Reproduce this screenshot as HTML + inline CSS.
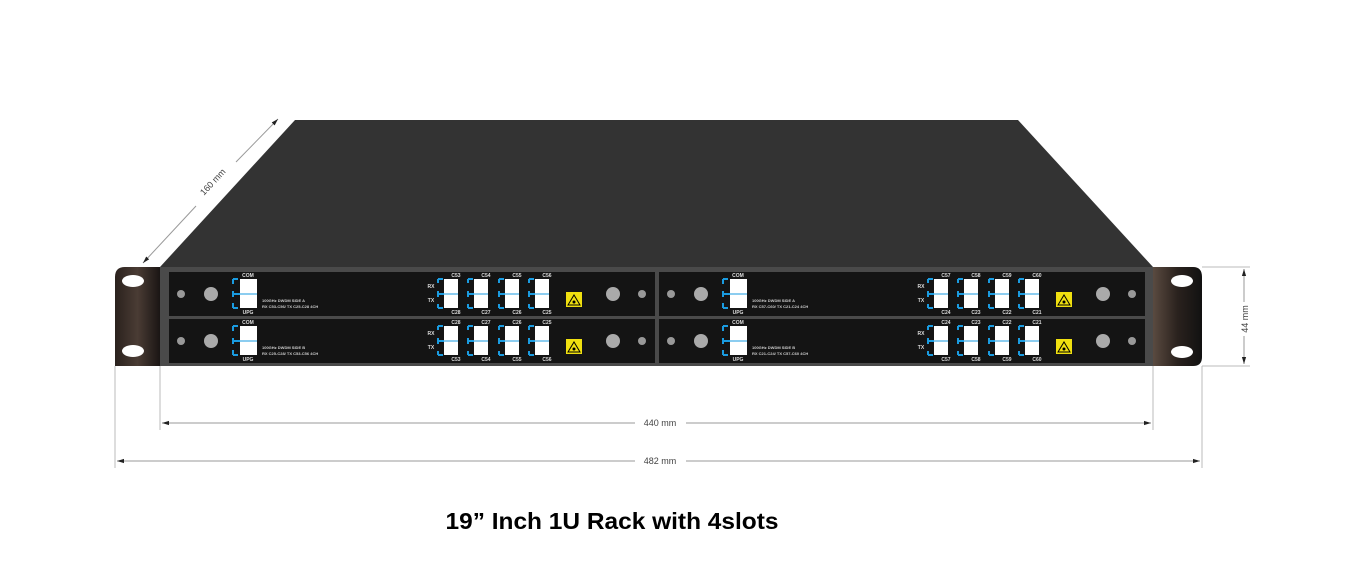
<!DOCTYPE html>
<html><head><meta charset="utf-8"><style>
html,body{margin:0;padding:0;background:#fff;}
svg{display:block;font-family:"Liberation Sans",sans-serif;}
.l{font-size:5px;fill:#ddd;font-weight:bold;text-anchor:middle}
.d{font-size:4px;fill:#ccc;font-weight:bold}
.dim{font-size:9px;fill:#444}
</style></head><body>
<svg width="1346" height="582" viewBox="0 0 1346 582">
<defs>
<linearGradient id="ear" x1="0" x2="1" y1="0" y2="0">
<stop offset="0" stop-color="#2a211d"/><stop offset="0.5" stop-color="#4a3c34"/><stop offset="1" stop-color="#1a1514"/></linearGradient>
<linearGradient id="ear2" x1="0" x2="1" y1="0" y2="0">
<stop offset="0" stop-color="#5a4a40"/><stop offset="0.5" stop-color="#2a221e"/><stop offset="1" stop-color="#111"/></linearGradient>
<marker id="ar" viewBox="0 0 10 10" refX="10" refY="5" markerWidth="7" markerHeight="7" orient="auto-start-reverse"><path d="M0,2 L10,5 L0,8 z" fill="#222"/></marker>
</defs>
<!-- lid -->
<polygon points="295,120 1018,120 1153,267 160,267" fill="#333"/>
<!-- front -->
<rect x="160" y="267" width="993" height="99" fill="#4a4a4a"/>
<!-- ears -->
<path d="M160,267 H125 Q115,267 115,277 V366 H160 Z" fill="url(#ear)"/>
<ellipse cx="133" cy="281" rx="11" ry="6" fill="#fff"/>
<ellipse cx="133" cy="351" rx="11" ry="6" fill="#fff"/>
<path d="M1153,267 H1193 Q1202,267 1202,277 V357 Q1202,366 1193,366 H1153 Z" fill="url(#ear2)"/>
<ellipse cx="1182" cy="281" rx="11" ry="6" fill="#fff"/>
<ellipse cx="1182" cy="352" rx="11" ry="6" fill="#fff"/>
<!-- dimensions -->
<g stroke="#bbb" stroke-width="1" fill="none">
<line x1="160" y1="366" x2="160" y2="430"/>
<line x1="1153" y1="366" x2="1153" y2="430"/>
<line x1="115" y1="366" x2="115" y2="468"/>
<line x1="1202" y1="366" x2="1202" y2="468"/>
<line x1="1202" y1="267" x2="1250" y2="267"/>
<line x1="1202" y1="366" x2="1250" y2="366"/>
</g>
<g stroke="#999" stroke-width="1" fill="none">
<line x1="162" y1="423" x2="635" y2="423" marker-start="url(#ar)"/>
<line x1="686" y1="423" x2="1151" y2="423" marker-end="url(#ar)"/>
<line x1="117" y1="461" x2="635" y2="461" marker-start="url(#ar)"/>
<line x1="686" y1="461" x2="1200" y2="461" marker-end="url(#ar)"/>
<line x1="1244" y1="269" x2="1244" y2="302" marker-start="url(#ar)"/>
<line x1="1244" y1="336" x2="1244" y2="364" marker-end="url(#ar)"/>
<line x1="143" y1="263" x2="196" y2="206" marker-start="url(#ar)"/>
<line x1="236" y1="162" x2="278" y2="119" marker-end="url(#ar)"/>
</g>
<text class="dim" x="660" y="426" text-anchor="middle">440 mm</text>
<text class="dim" x="660" y="464" text-anchor="middle">482 mm</text>
<text class="dim" transform="translate(1248,319) rotate(-90)" text-anchor="middle">44 mm</text>
<text class="dim" transform="translate(215,184) rotate(-47)" text-anchor="middle">160 mm</text>
<text x="612" y="529" text-anchor="middle" font-size="23" font-weight="bold" fill="#000" textLength="333" lengthAdjust="spacingAndGlyphs">19” Inch 1U Rack with 4slots</text>

<!-- slot 1 -->
<g transform="translate(169,272)">
<rect width="486" height="44" fill="#141414"/>
<circle cx="12" cy="22" r="4" fill="#999"/><circle cx="42" cy="22" r="7" fill="#aaa"/>
<circle cx="444" cy="22" r="7" fill="#aaa"/><circle cx="473" cy="22" r="4" fill="#999"/>
<path d="M64,7h5M64,7v5M64,36h5M64,36v-5M64,19v6M64,22h8" stroke="#1a9be0" stroke-width="2"/>
<rect x="71" y="7" width="17" height="29" fill="#fff"/><line x1="71" y1="22" x2="88" y2="22" stroke="#1a9be0"/>
<text class="l" x="79" y="5">COM</text><text class="l" x="79" y="42">UPG</text>
<text class="d" x="93" y="30">100GHz DWDM SIDE A</text><text class="d" x="93" y="36">RX C53-C56/ TX C25-C28 4CH</text>
<text class="l" x="262" y="16" font-size="4">RX</text><text class="l" x="262" y="30" font-size="4">TX</text>
<g id="p1"><path d="M269,7h5M269,7v4M269,36h5M269,36v-4M269,19v6M269,22h8" stroke="#1a9be0" stroke-width="2"/><rect x="275" y="7" width="14" height="29" fill="#fff"/><line x1="275" y1="22" x2="289" y2="22" stroke="#1a9be0"/></g>
<g transform="translate(30,0)"><path d="M269,7h5M269,7v4M269,36h5M269,36v-4M269,19v6M269,22h8" stroke="#1a9be0" stroke-width="2"/><rect x="275" y="7" width="14" height="29" fill="#fff"/><line x1="275" y1="22" x2="289" y2="22" stroke="#1a9be0"/></g>
<g transform="translate(61,0)"><path d="M269,7h5M269,7v4M269,36h5M269,36v-4M269,19v6M269,22h8" stroke="#1a9be0" stroke-width="2"/><rect x="275" y="7" width="14" height="29" fill="#fff"/><line x1="275" y1="22" x2="289" y2="22" stroke="#1a9be0"/></g>
<g transform="translate(91,0)"><path d="M269,7h5M269,7v4M269,36h5M269,36v-4M269,19v6M269,22h8" stroke="#1a9be0" stroke-width="2"/><rect x="275" y="7" width="14" height="29" fill="#fff"/><line x1="275" y1="22" x2="289" y2="22" stroke="#1a9be0"/></g>
<text class="l" x="287" y="5">C53</text><text class="l" x="317" y="5">C54</text><text class="l" x="348" y="5">C55</text><text class="l" x="378" y="5">C56</text>
<text class="l" x="287" y="42">C28</text><text class="l" x="317" y="42">C27</text><text class="l" x="348" y="42">C26</text><text class="l" x="378" y="42">C25</text>
<rect x="397" y="20" width="16" height="15" fill="#f0e010"/><path d="M399,33 L405,23 L411,33 Z" fill="none" stroke="#000"/><circle cx="405" cy="30" r="1.5"/>
</g>

<!-- slot 2 -->
<g transform="translate(659,272)">
<rect width="486" height="44" fill="#141414"/>
<circle cx="12" cy="22" r="4" fill="#999"/><circle cx="42" cy="22" r="7" fill="#aaa"/>
<circle cx="444" cy="22" r="7" fill="#aaa"/><circle cx="473" cy="22" r="4" fill="#999"/>
<path d="M64,7h5M64,7v5M64,36h5M64,36v-5M64,19v6M64,22h8" stroke="#1a9be0" stroke-width="2"/>
<rect x="71" y="7" width="17" height="29" fill="#fff"/><line x1="71" y1="22" x2="88" y2="22" stroke="#1a9be0"/>
<text class="l" x="79" y="5">COM</text><text class="l" x="79" y="42">UPG</text>
<text class="d" x="93" y="30">100GHz DWDM SIDE A</text><text class="d" x="93" y="36">RX C57-C60/ TX C21-C24 4CH</text>
<text class="l" x="262" y="16" font-size="4">RX</text><text class="l" x="262" y="30" font-size="4">TX</text>
<g><path d="M269,7h5M269,7v4M269,36h5M269,36v-4M269,19v6M269,22h8" stroke="#1a9be0" stroke-width="2"/><rect x="275" y="7" width="14" height="29" fill="#fff"/><line x1="275" y1="22" x2="289" y2="22" stroke="#1a9be0"/></g>
<g transform="translate(30,0)"><path d="M269,7h5M269,7v4M269,36h5M269,36v-4M269,19v6M269,22h8" stroke="#1a9be0" stroke-width="2"/><rect x="275" y="7" width="14" height="29" fill="#fff"/><line x1="275" y1="22" x2="289" y2="22" stroke="#1a9be0"/></g>
<g transform="translate(61,0)"><path d="M269,7h5M269,7v4M269,36h5M269,36v-4M269,19v6M269,22h8" stroke="#1a9be0" stroke-width="2"/><rect x="275" y="7" width="14" height="29" fill="#fff"/><line x1="275" y1="22" x2="289" y2="22" stroke="#1a9be0"/></g>
<g transform="translate(91,0)"><path d="M269,7h5M269,7v4M269,36h5M269,36v-4M269,19v6M269,22h8" stroke="#1a9be0" stroke-width="2"/><rect x="275" y="7" width="14" height="29" fill="#fff"/><line x1="275" y1="22" x2="289" y2="22" stroke="#1a9be0"/></g>
<text class="l" x="287" y="5">C57</text><text class="l" x="317" y="5">C58</text><text class="l" x="348" y="5">C59</text><text class="l" x="378" y="5">C60</text>
<text class="l" x="287" y="42">C24</text><text class="l" x="317" y="42">C23</text><text class="l" x="348" y="42">C22</text><text class="l" x="378" y="42">C21</text>
<rect x="397" y="20" width="16" height="15" fill="#f0e010"/><path d="M399,33 L405,23 L411,33 Z" fill="none" stroke="#000"/><circle cx="405" cy="30" r="1.5"/>
</g>

<!-- slot 3 -->
<g transform="translate(169,319)">
<rect width="486" height="44" fill="#141414"/>
<circle cx="12" cy="22" r="4" fill="#999"/><circle cx="42" cy="22" r="7" fill="#aaa"/>
<circle cx="444" cy="22" r="7" fill="#aaa"/><circle cx="473" cy="22" r="4" fill="#999"/>
<path d="M64,7h5M64,7v5M64,36h5M64,36v-5M64,19v6M64,22h8" stroke="#1a9be0" stroke-width="2"/>
<rect x="71" y="7" width="17" height="29" fill="#fff"/><line x1="71" y1="22" x2="88" y2="22" stroke="#1a9be0"/>
<text class="l" x="79" y="5">COM</text><text class="l" x="79" y="42">UPG</text>
<text class="d" x="93" y="30">100GHz DWDM SIDE B</text><text class="d" x="93" y="36">RX C25-C28/ TX C53-C56 4CH</text>
<text class="l" x="262" y="16" font-size="4">RX</text><text class="l" x="262" y="30" font-size="4">TX</text>
<g><path d="M269,7h5M269,7v4M269,36h5M269,36v-4M269,19v6M269,22h8" stroke="#1a9be0" stroke-width="2"/><rect x="275" y="7" width="14" height="29" fill="#fff"/><line x1="275" y1="22" x2="289" y2="22" stroke="#1a9be0"/></g>
<g transform="translate(30,0)"><path d="M269,7h5M269,7v4M269,36h5M269,36v-4M269,19v6M269,22h8" stroke="#1a9be0" stroke-width="2"/><rect x="275" y="7" width="14" height="29" fill="#fff"/><line x1="275" y1="22" x2="289" y2="22" stroke="#1a9be0"/></g>
<g transform="translate(61,0)"><path d="M269,7h5M269,7v4M269,36h5M269,36v-4M269,19v6M269,22h8" stroke="#1a9be0" stroke-width="2"/><rect x="275" y="7" width="14" height="29" fill="#fff"/><line x1="275" y1="22" x2="289" y2="22" stroke="#1a9be0"/></g>
<g transform="translate(91,0)"><path d="M269,7h5M269,7v4M269,36h5M269,36v-4M269,19v6M269,22h8" stroke="#1a9be0" stroke-width="2"/><rect x="275" y="7" width="14" height="29" fill="#fff"/><line x1="275" y1="22" x2="289" y2="22" stroke="#1a9be0"/></g>
<text class="l" x="287" y="5">C28</text><text class="l" x="317" y="5">C27</text><text class="l" x="348" y="5">C26</text><text class="l" x="378" y="5">C25</text>
<text class="l" x="287" y="42">C53</text><text class="l" x="317" y="42">C54</text><text class="l" x="348" y="42">C55</text><text class="l" x="378" y="42">C56</text>
<rect x="397" y="20" width="16" height="15" fill="#f0e010"/><path d="M399,33 L405,23 L411,33 Z" fill="none" stroke="#000"/><circle cx="405" cy="30" r="1.5"/>
</g>

<!-- slot 4 -->
<g transform="translate(659,319)">
<rect width="486" height="44" fill="#141414"/>
<circle cx="12" cy="22" r="4" fill="#999"/><circle cx="42" cy="22" r="7" fill="#aaa"/>
<circle cx="444" cy="22" r="7" fill="#aaa"/><circle cx="473" cy="22" r="4" fill="#999"/>
<path d="M64,7h5M64,7v5M64,36h5M64,36v-5M64,19v6M64,22h8" stroke="#1a9be0" stroke-width="2"/>
<rect x="71" y="7" width="17" height="29" fill="#fff"/><line x1="71" y1="22" x2="88" y2="22" stroke="#1a9be0"/>
<text class="l" x="79" y="5">COM</text><text class="l" x="79" y="42">UPG</text>
<text class="d" x="93" y="30">100GHz DWDM SIDE B</text><text class="d" x="93" y="36">RX C21-C24/ TX C57-C60 4CH</text>
<text class="l" x="262" y="16" font-size="4">RX</text><text class="l" x="262" y="30" font-size="4">TX</text>
<g><path d="M269,7h5M269,7v4M269,36h5M269,36v-4M269,19v6M269,22h8" stroke="#1a9be0" stroke-width="2"/><rect x="275" y="7" width="14" height="29" fill="#fff"/><line x1="275" y1="22" x2="289" y2="22" stroke="#1a9be0"/></g>
<g transform="translate(30,0)"><path d="M269,7h5M269,7v4M269,36h5M269,36v-4M269,19v6M269,22h8" stroke="#1a9be0" stroke-width="2"/><rect x="275" y="7" width="14" height="29" fill="#fff"/><line x1="275" y1="22" x2="289" y2="22" stroke="#1a9be0"/></g>
<g transform="translate(61,0)"><path d="M269,7h5M269,7v4M269,36h5M269,36v-4M269,19v6M269,22h8" stroke="#1a9be0" stroke-width="2"/><rect x="275" y="7" width="14" height="29" fill="#fff"/><line x1="275" y1="22" x2="289" y2="22" stroke="#1a9be0"/></g>
<g transform="translate(91,0)"><path d="M269,7h5M269,7v4M269,36h5M269,36v-4M269,19v6M269,22h8" stroke="#1a9be0" stroke-width="2"/><rect x="275" y="7" width="14" height="29" fill="#fff"/><line x1="275" y1="22" x2="289" y2="22" stroke="#1a9be0"/></g>
<text class="l" x="287" y="5">C24</text><text class="l" x="317" y="5">C23</text><text class="l" x="348" y="5">C22</text><text class="l" x="378" y="5">C21</text>
<text class="l" x="287" y="42">C57</text><text class="l" x="317" y="42">C58</text><text class="l" x="348" y="42">C59</text><text class="l" x="378" y="42">C60</text>
<rect x="397" y="20" width="16" height="15" fill="#f0e010"/><path d="M399,33 L405,23 L411,33 Z" fill="none" stroke="#000"/><circle cx="405" cy="30" r="1.5"/>
</g>
</svg>
</body></html>
